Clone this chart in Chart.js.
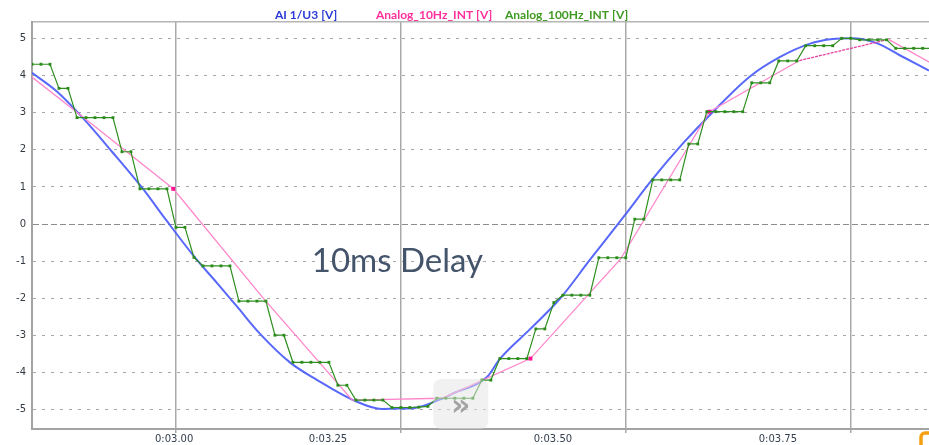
<!DOCTYPE html>
<html>
<head>
<meta charset="utf-8">
<script src="https://cdn.jsdelivr.net/npm/chart.js@4.4.1/dist/chart.umd.min.js"></script>
<style>
  html, body { margin: 0; padding: 0; background: #ffffff; }
  #wrap { width: 929px; height: 445px; }
</style>
</head>
<body>
<div id="wrap"><canvas id="c" width="929" height="445"></canvas></div>
<script>
// Raw input signal AI 1/U3 (time in s, volts)
const sineTimes = [2.840, 2.868, 2.897, 2.929, 2.963, 2.989, 3.021, 3.046, 3.068, 3.093, 3.127, 3.157,
                   3.197, 3.229, 3.249, 3.268, 3.297, 3.308, 3.346, 3.360, 3.393, 3.427, 3.460, 3.499,
                   3.529, 3.563, 3.597, 3.638, 3.671, 3.704, 3.730, 3.752, 3.779, 3.804, 3.837];
const sineVolts = [4.08, 3.57, 2.85, 1.95, 0.96, 0.11, -0.90, -1.60, -2.23, -2.95, -3.74, -4.21,
                   -4.75, -4.99, -4.98, -4.95, -4.70, -4.57, -4.12, -3.64, -2.85, -2.01, -0.97, 0.24,
                   1.19, 2.16, 3.03, 3.98, 4.50, 4.86, 4.99, 5.01, 4.88, 4.56, 4.14];

// 10 Hz integrated channel
const tenHzTimes = [2.797, 2.897, 2.997, 3.097, 3.196, 3.296, 3.394, 3.494, 3.593, 3.693, 3.792, 3.892];
const tenHzVolts = [4.78, 2.88, 0.95, -2.00, -4.75, -4.70, -3.63, -0.95, 3.03, 4.41, 4.98, 3.63];

// 100 Hz integrated channel
const hundredHzTimes = [
  2.84, 2.85, 2.86, 2.87, 2.88, 2.89, 2.90, 2.91, 2.92, 2.93,
  2.94, 2.95, 2.96, 2.97, 2.98, 2.99, 3.00, 3.01, 3.02, 3.03,
  3.04, 3.05, 3.06, 3.07, 3.08, 3.09, 3.10, 3.11, 3.12, 3.13,
  3.14, 3.15, 3.16, 3.17, 3.18, 3.19, 3.20, 3.21, 3.22, 3.23,
  3.24, 3.25, 3.26, 3.27, 3.28, 3.29, 3.30, 3.31, 3.32, 3.33,
  3.34, 3.35, 3.36, 3.37, 3.38, 3.39, 3.40, 3.41, 3.42, 3.43,
  3.44, 3.45, 3.46, 3.47, 3.48, 3.49, 3.50, 3.51, 3.52, 3.53,
  3.54, 3.55, 3.56, 3.57, 3.58, 3.59, 3.60, 3.61, 3.62, 3.63,
  3.64, 3.65, 3.66, 3.67, 3.68, 3.69, 3.70, 3.71, 3.72, 3.73,
  3.74, 3.75, 3.76, 3.77, 3.78, 3.79, 3.80, 3.81, 3.82, 3.83,
  3.84];
const hundredHzVolts = [
  4.31, 4.31, 4.31, 3.66, 3.66, 2.87, 2.87, 2.87, 2.87, 2.87,
  1.95, 1.95, 0.95, 0.95, 0.95, 0.95, -0.09, -0.09, -0.90, -1.13,
  -1.13, -1.13, -1.13, -2.08, -2.08, -2.08, -2.08, -3.00, -3.00, -3.73,
  -3.73, -3.73, -3.73, -3.73, -4.35, -4.35, -4.75, -4.75, -4.75, -4.75,
  -4.95, -4.95, -4.95, -4.94, -4.92, -4.70, -4.70, -4.70, -4.70, -4.70,
  -4.21, -4.21, -3.63, -3.63, -3.63, -3.63, -2.83, -2.83, -2.12, -1.92,
  -1.92, -1.92, -1.92, -0.91, -0.91, -0.91, -0.91, 0.13, 0.13, 1.19,
  1.19, 1.19, 1.19, 2.16, 2.16, 3.03, 3.03, 3.03, 3.03, 3.03,
  3.81, 3.81, 3.81, 4.40, 4.40, 4.40, 4.81, 4.81, 4.81, 4.81,
  5.01, 5.01, 4.97, 4.97, 4.97, 4.97, 4.74, 4.74, 4.74, 4.74,
  4.74];

// Time axis
const timeMin = 2.840;
const timeMax = 3.837;
const gridTimes = [3.00, 3.25, 3.50, 3.75];
const tickLabelTimes = [2.998, 3.169, 3.419, 3.669];
const tickLabels = ['0:03.00', '0:03.25', '0:03.50', '0:03.75'];

// Value axis
const voltMin = -5.53;
const voltMax = 5.45;

// 10 Hz samples that carry a marker, and the segment drawn in the darker tone
const markedTenHz = [2, 6, 8];
const darkTenHzSegment = 9;

const toPoints = (ts, vs) => ts.map((t, i) => ({ x: t, y: vs[i] }));

// Channel header row above the plot, one coloured name per channel
const channelHeader = {
  id: 'channelHeader',
  afterDraw(chart) {
    const { ctx } = chart;
    const starts = [275, 376, 505];
    ctx.save();
    ctx.font = 'bold 12px Lato';
    ctx.textAlign = 'left';
    ctx.textBaseline = 'alphabetic';
    chart.data.datasets.forEach((ds, i) => {
      ctx.fillStyle = ds.legendColor;
      ctx.fillText(ds.label, starts[i], 19);
    });
    ctx.restore();
  }
};

const decor = {
  id: 'decor',
  afterDatasetsDraw(chart) {
    const { ctx, chartArea, scales: { x, y } } = chart;
    ctx.save();
    // annotation text
    ctx.font = '33px Lato';
    ctx.fillStyle = '#44546a';
    ctx.textAlign = 'left';
    ctx.textBaseline = 'alphabetic';
    ctx.fillText('10ms Delay', x.getPixelForValue(3.151), y.getPixelForValue(-1.30));

    // scroll button on the plot floor
    const bx = x.getPixelForValue(3.286), bw = 55, bh = 50;
    const by = chartArea.bottom - bh;
    ctx.fillStyle = 'rgba(228,228,228,0.5)';
    ctx.beginPath();
    ctx.roundRect(bx, by, bw, bh, 8);
    ctx.fill();
    ctx.fillStyle = '#a3a3a3';
    ctx.font = 'bold 30px "DejaVu Sans"';
    ctx.textAlign = 'center';
    ctx.textBaseline = 'middle';
    ctx.fillText('\u00bb', bx + bw / 2, by + 28);
    ctx.restore();
  },
  afterDraw(chart) {
    const { ctx, width, height } = chart;
    ctx.save();
    ctx.strokeStyle = '#f5a010';
    ctx.lineWidth = 3.5;
    ctx.beginPath();
    ctx.roundRect(width - 8, height - 12, 16, 16, 4);
    ctx.stroke();
    ctx.restore();
  }
};

new Chart(document.getElementById('c'), {
  type: 'line',
  data: {
    datasets: [
      {
        label: 'AI 1/U3 [V]',
        legendColor: '#2b3bd6',
        data: toPoints(sineTimes, sineVolts),
        borderColor: 'rgba(70,88,250,0.9)',
        borderWidth: 2,
        pointRadius: 0,
        cubicInterpolationMode: 'monotone',
        order: 2
      },
      {
        label: 'Analog_10Hz_INT [V]',
        legendColor: '#ff2f9c',
        data: toPoints(tenHzTimes, tenHzVolts),
        borderColor: '#ff86cb',
        borderWidth: 1.3,
        segment: {
          borderColor: ctx => ctx.p0DataIndex === darkTenHzSegment ? '#e8409e' : undefined,
          borderDash: ctx => ctx.p0DataIndex === darkTenHzSegment ? [3, 1] : undefined
        },
        pointStyle: 'rect',
        pointRadius: ctx => markedTenHz.includes(ctx.dataIndex) ? 2.8 : 0,
        pointBackgroundColor: '#ff1493',
        pointBorderWidth: 0,
        tension: 0,
        order: 1
      },
      {
        label: 'Analog_100Hz_INT [V]',
        legendColor: '#3f9a22',
        data: toPoints(hundredHzTimes, hundredHzVolts),
        borderColor: '#2f8f1f',
        borderWidth: 1.2,
        pointStyle: 'rect',
        pointRadius: 2,
        pointBackgroundColor: '#2a8a1a',
        pointBorderWidth: 0,
        tension: 0,
        order: 0
      }
    ]
  },
  options: {
    responsive: false,
    animation: false,
    devicePixelRatio: 1,
    layout: { autoPadding: false, padding: { top: 22, left: 0, right: 0, bottom: 0 } },
    plugins: {
      tooltip: { enabled: false },
      legend: { display: false }
    },
    scales: {
      x: {
        type: 'linear',
        position: 'bottom',
        weight: 0,
        min: timeMin,
        max: timeMax,
        afterBuildTicks(axis) { axis.ticks = gridTimes.map(v => ({ value: v })); },
        ticks: { display: false },
        grid: { color: '#a9a9a9', lineWidth: 1.5, drawTicks: true, tickLength: 4, tickColor: '#a9a9a9' },
        border: { display: true, color: '#a3a3a3', width: 2 }
      },
      xLab: {
        type: 'linear',
        position: 'bottom',
        weight: 1,
        min: timeMin,
        max: timeMax,
        afterBuildTicks(axis) { axis.ticks = tickLabelTimes.map(v => ({ value: v })); },
        afterFit(axis) { axis.height = 12; },
        ticks: {
          autoSkip: false,
          maxRotation: 0,
          padding: 0,
          color: '#34404f',
          font: { family: 'DejaVu Sans', size: 10 },
          callback: (v, i) => tickLabels[i]
        },
        grid: { display: false, drawTicks: false },
        border: { display: false }
      },
      xTop: {
        type: 'linear',
        position: 'top',
        min: timeMin,
        max: timeMax,
        ticks: { display: false },
        grid: { display: false, drawTicks: false },
        border: { display: true, color: '#b5b5b5', width: 1.5 }
      },
      y: {
        type: 'linear',
        min: voltMin,
        max: voltMax,
        afterFit(axis) { axis.width = 32; },
        ticks: {
          stepSize: 1,
          includeBounds: false,
          padding: 6,
          color: '#333a44',
          font: { family: 'DejaVu Sans', size: 10 }
        },
        grid: {
          drawTicks: false,
          lineWidth: 1,
          color: ctx => (ctx.tick && ctx.tick.value === 0) ? '#8c8c8c' : '#a6a6a6'
        },
        border: {
          display: true,
          color: '#a3a3a3',
          width: 2,
          dash: ctx => (ctx.tick && ctx.tick.value === 0) ? [6, 3] : [3, 6]
        }
      }
    }
  },
  plugins: [decor, channelHeader]
});
</script>
</body>
</html>
